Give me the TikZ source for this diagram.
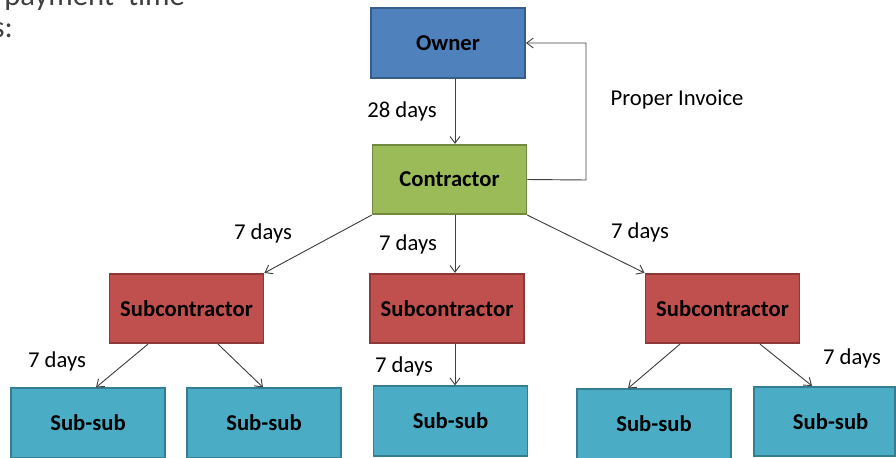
\documentclass[tikz,border=0pt]{standalone}
\usepackage{fontspec}
\setmainfont{Carlito}
\usetikzlibrary{arrows.meta}
\definecolor{ownerfill}{HTML}{4F81BD}
\definecolor{ownerline}{HTML}{385D8A}
\definecolor{contrfill}{HTML}{9BBB59}
\definecolor{contrline}{HTML}{71893F}
\definecolor{subfill}{HTML}{C0504D}
\definecolor{subline}{HTML}{8C3836}
\definecolor{ssfill}{HTML}{4BACC6}
\definecolor{ssline}{HTML}{357D91}
\definecolor{arrowgray}{HTML}{404040}
\definecolor{headgray}{HTML}{404040}
\tikzset{
  box/.style={draw, line width=1.4pt, minimum width=115.5pt, minimum height=52pt,
    inner sep=0pt, font=\fontsize{17}{20}\selectfont\bfseries, text=black},
  ownerbox/.style={box, fill=ownerfill, draw=ownerline},
  contrbox/.style={box, fill=contrfill, draw=contrline},
  subbox/.style={box, fill=subfill, draw=subline},
  ssbox/.style={box, fill=ssfill, draw=ssline},
  arr/.style={draw=arrowgray, line width=0.7pt, -{Straight Barb[length=5pt,width=7.5pt]}},
  lbl/.style={font=\fontsize{17}{20}\selectfont, text=black, inner sep=0pt},
  toptext/.style={font=\fontsize{23}{27}\selectfont, text=headgray, inner sep=0pt}
}
\begin{document}
\begin{tikzpicture}[x=0.75pt,y=-0.75pt]
\useasboundingbox (0,0) rectangle (896,457);
% partial heading text
\node[toptext, anchor=base west] (h1) at (4,5) {payment\ \ time};
\node[toptext, anchor=base east] (h2) at (13,37) {s:};
% boxes
\node[ownerbox] (O) at (448,43) {Owner};
\node[contrbox] (C) at (449.5,179.5) {Contractor};
\node[subbox] (S1) at (186.5,308.5) {Subcontractor};
\node[subbox] (S2) at (447,308.5) {Subcontractor};
\node[subbox] (S3) at (722.5,308.5) {Subcontractor};
\node[ssbox] (SS1) at (88,423) {Sub-sub};
\node[ssbox] (SS2) at (264,423) {Sub-sub};
\node[ssbox] (SS3) at (450.5,421) {Sub-sub};
\node[ssbox] (SS4) at (654,424) {Sub-sub};
\node[ssbox, minimum width=0pt, inner xsep=20pt, text width=65.75pt, align=right,
      text depth=0pt] (SS5) at (824.5,421.5) {Sub-sub};
% connectors
\draw[arr] (O.south -| 455,0) -- (C.north -| 455,0);
\coordinate (fb) at (586,180);
\draw[arr] (C.east) -- (fb) |- (O.east);
\draw[arr] (C.south west) -- (S1.north east);
\draw[arr] (C.south -| 455,0) -- (S2.north -| 455,0);
\draw[arr] (C.south east) -- (S3.north west);
\draw[arr] (S1.south -| 148,0) -- (SS1.north -| 96,0);
\draw[arr] (S1.south -| 218,0) -- (SS2.north -| 263,0);
\draw[arr] (S2.south -| 455,0) -- (SS3.north -| 455,0);
\draw[arr] (S3.south -| 680,0) -- (SS4.north -| 628,0);
\draw[arr] (S3.south -| 760,0) -- (SS5.north -| 812,0);
% labels
\node[lbl] (l28) at (402,111) {28 days};
\node[lbl] (lpi) at (677,100) {Proper Invoice};
\node[lbl] (l1) at (263,233) {7 days};
\node[lbl] (l2) at (408,244) {7 days};
\node[lbl] (l3) at (640,232) {7 days};
\node[lbl] (l4) at (57,361) {7 days};
\node[lbl] (l5) at (404,366) {7 days};
\node[lbl] (l6) at (852,358) {7 days};
\end{tikzpicture}
\end{document}
